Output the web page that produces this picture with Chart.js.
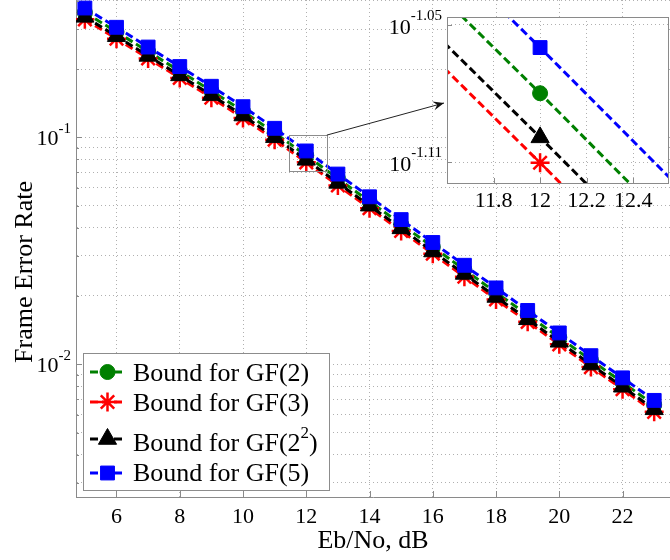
<!DOCTYPE html>
<html><head><meta charset="utf-8">
<script src="https://cdn.jsdelivr.net/npm/chart.js@4.4.1/dist/chart.umd.min.js"></script>
<style>
html,body{margin:0;padding:0;background:#fff;}
#wrap{position:relative;width:670px;height:560px;overflow:hidden;background:#fff;}
#main{position:absolute;left:0;top:0;}
#inset{position:absolute;left:380px;top:0;}
</style></head><body>
<div id="wrap"><canvas id="main" width="670" height="560"></canvas><canvas id="inset" width="290" height="220"></canvas></div>
<script>
// ---- data ----
const ebno = [5, 6, 7, 8, 9, 10, 11, 12, 13, 14, 15, 16, 17, 18, 19, 20, 21, 22, 23];
const ferGF2  = [0.3548, 0.2917, 0.2388, 0.1959, 0.1603, 0.1304, 0.1047, 0.0832, 0.0658, 0.0522, 0.0414, 0.0329, 0.0261, 0.0207, 0.01648, 0.01312, 0.01042, 0.00832, 0.00662];
const ferGF3  = [0.3311, 0.2722, 0.2228, 0.1827, 0.1496, 0.1216, 0.0977, 0.0776, 0.0614, 0.0487, 0.0387, 0.0307, 0.0243, 0.0193, 0.01538, 0.01224, 0.00972, 0.00776, 0.00617];
const ferGF4  = [0.3396, 0.2792, 0.2285, 0.1875, 0.1535, 0.1248, 0.1002, 0.0796, 0.0630, 0.0500, 0.0397, 0.0314, 0.0250, 0.0198, 0.01578, 0.01256, 0.00997, 0.00796, 0.00633];
const ferGF5  = [0.3715, 0.3055, 0.2500, 0.2051, 0.1679, 0.1365, 0.1096, 0.0871, 0.0689, 0.0547, 0.0434, 0.0344, 0.0273, 0.0217, 0.01726, 0.01374, 0.01091, 0.00871, 0.00693];
const seriesLabels = ['Bound for GF(2)', 'Bound for GF(3)', 'Bound for GF(2^2)', 'Bound for GF(5)'];
const xTickValues = [6, 8, 10, 12, 14, 16, 18, 20, 22];
const yDecadeExps = [-1, -2];
const yGridDecades = [0.001, 0.01, 0.1];
const yGridMultipliers = [1, 2, 3, 4, 5, 6, 7, 8, 9];
const insetXTicks = [11.8, 12, 12.2, 12.4];
const insetXLabels = ['11.8', '12', '12.2', '12.4'];
const insetYTickExps = [-1.05, -1.11];
const insetYLabels = ['-1.05', '-1.11'];
const xLabel = 'Eb/No, dB';
const yLabel = 'Frame Error Rate';

// ---- ranges / style ----
const X_MIN = 4.72, X_MAX = 23.5, Y_MIN = 0.0026, Y_MAX = 0.403;
const IX_MIN = 11.6, IX_MAX = 12.554, IY_MIN = 0.07604, IY_MAX = 0.08981;
const zoomRect = {x0: 11.45, x1: 12.65, y0: 0.0713, y1: 0.1023};
const FONT = '"Liberation Serif", "Times New Roman", serif';
const GRID = '#b0b0b0';
const AXIS = '#8a8a8a';

const styles = [
  {color: '#008000', pointStyle: 'circle',   radius: 7.5, pbw: 1,   order: 3},
  {color: '#ff0000', pointStyle: 'star',     radius: 9.5, pbw: 2.5, order: 2},
  {color: '#000000', pointStyle: 'triangle', radius: 10.5,pbw: 1,   order: 1},
  {color: '#0000ff', pointStyle: 'rect',     radius: 9.8, pbw: 1,   order: 0}
];
const seriesData = [ferGF2, ferGF3, ferGF4, ferGF5];

function makeDatasets(inset) {
  return seriesData.map((arr, k) => {
    const s = styles[k];
    return {
      label: seriesLabels[k],
      data: ebno.map((x, i) => ({x: x, y: arr[i]})),
      borderColor: s.color, backgroundColor: s.color,
      pointBackgroundColor: s.color, pointBorderColor: s.color,
      pointStyle: s.pointStyle, pointRadius: s.radius, pointBorderWidth: s.pbw,
      borderWidth: 3, borderDash: [8, 4], tension: 0, fill: false,
      order: s.order, clip: inset ? 0 : undefined
    };
  });
}

const yGridValues = [];
yGridDecades.forEach(d => yGridMultipliers.forEach(m => {
  const v = +(d * m).toPrecision(3);
  if (v >= Y_MIN && v <= Y_MAX) yGridValues.push(v);
}));

function drawPow(ctx, base, sup, rightX, baseline, size, supSize, raise) {
  ctx.font = size + 'px ' + FONT;
  const wb = ctx.measureText(base).width;
  ctx.font = supSize + 'px ' + FONT;
  const ws = ctx.measureText(sup).width;
  const x0 = rightX - wb - ws;
  ctx.textAlign = 'left';
  ctx.textBaseline = 'alphabetic';
  ctx.font = size + 'px ' + FONT;
  ctx.fillText(base, x0, baseline);
  ctx.font = supSize + 'px ' + FONT;
  ctx.fillText(sup, x0 + wb, baseline - raise);
}

function drawMarker(ctx, s, x, y) {
  if (Chart.helpers && Chart.helpers.drawPoint) {
    ctx.save();
    ctx.fillStyle = s.color; ctx.strokeStyle = s.color; ctx.lineWidth = s.pbw;
    Chart.helpers.drawPoint(ctx, {pointStyle: s.pointStyle, radius: s.radius, rotation: 0, borderWidth: s.pbw}, x, y);
    ctx.restore();
  }
}

const mainDecor = {
  id: 'mainDecor',
  afterDraw(chart) {
    const ctx = chart.ctx, a = chart.chartArea, xs = chart.scales.x, ys = chart.scales.y;
    ctx.save();
    // inward ticks
    ctx.strokeStyle = AXIS; ctx.lineWidth = 1; ctx.setLineDash([]);
    xTickValues.forEach(v => {
      const px = Math.round(xs.getPixelForValue(v)) + 0.5;
      ctx.beginPath(); ctx.moveTo(px, a.bottom); ctx.lineTo(px, a.bottom - 6); ctx.stroke();
    });
    yGridValues.forEach(v => {
      const py = Math.round(ys.getPixelForValue(v)) + 0.5;
      const major = Math.abs(Math.log10(v) - Math.round(Math.log10(v))) < 1e-6;
      ctx.beginPath(); ctx.moveTo(a.left, py); ctx.lineTo(a.left + (major ? 6 : 3), py); ctx.stroke();
    });
    // tick labels
    ctx.fillStyle = '#000';
    ctx.font = '22px ' + FONT; ctx.textAlign = 'center'; ctx.textBaseline = 'alphabetic';
    xTickValues.forEach(v => ctx.fillText(String(v), xs.getPixelForValue(v), a.bottom + 26));
    yDecadeExps.forEach(e => {
      const py = ys.getPixelForValue(Math.pow(10, e));
      drawPow(ctx, '10', String(e), a.left - 5, py + 8, 22, 15, 12);
    });
    // axis titles
    ctx.font = '26px ' + FONT; ctx.textAlign = 'center'; ctx.textBaseline = 'alphabetic';
    ctx.fillText(xLabel, (a.left + a.right) / 2, a.bottom + 51);
    ctx.save(); ctx.translate(32, 272); ctx.rotate(-Math.PI / 2);
    ctx.fillText(yLabel, 0, 0); ctx.restore();
    // zoom rectangle
    const rx0 = xs.getPixelForValue(zoomRect.x0), rx1 = xs.getPixelForValue(zoomRect.x1);
    const ry0 = ys.getPixelForValue(zoomRect.y0), ry1 = ys.getPixelForValue(zoomRect.y1);
    ctx.strokeStyle = '#8c8c8c'; ctx.lineWidth = 1;
    ctx.strokeRect(Math.round(rx0) + 0.5, Math.round(ry1) + 0.5, Math.round(rx1 - rx0), Math.round(ry0 - ry1));
    // arrow to inset
    const tx = 444, ty = 103;
    ctx.strokeStyle = '#222'; ctx.lineWidth = 1;
    ctx.beginPath(); ctx.moveTo(rx1, ry1); ctx.lineTo(tx, ty); ctx.stroke();
    const ang = Math.atan2(ty - ry1, tx - rx1);
    ctx.fillStyle = '#111';
    ctx.beginPath();
    ctx.moveTo(tx, ty);
    ctx.lineTo(tx - 11 * Math.cos(ang) + 4.5 * Math.sin(ang), ty - 11 * Math.sin(ang) - 4.5 * Math.cos(ang));
    ctx.lineTo(tx - 7 * Math.cos(ang), ty - 7 * Math.sin(ang));
    ctx.lineTo(tx - 11 * Math.cos(ang) - 4.5 * Math.sin(ang), ty - 11 * Math.sin(ang) + 4.5 * Math.cos(ang));
    ctx.closePath(); ctx.fill();
    // legend
    const lb = {x: 83, y: 353, w: 246, h: 137};
    ctx.fillStyle = '#fff'; ctx.fillRect(lb.x, lb.y, lb.w, lb.h);
    ctx.strokeStyle = '#8c8c8c'; ctx.lineWidth = 1;
    ctx.strokeRect(lb.x + 0.5, lb.y + 0.5, lb.w, lb.h);
    const rows = [{m: 372, b: 381}, {m: 402, b: 411}, {m: 439, b: 451}, {m: 473, b: 481}];
    rows.forEach((r, k) => {
      const s = styles[k];
      ctx.strokeStyle = s.color; ctx.lineWidth = 3; ctx.setLineDash([8, 4]);
      ctx.beginPath(); ctx.moveTo(90, r.m); ctx.lineTo(125, r.m); ctx.stroke();
      ctx.setLineDash([]);
      drawMarker(ctx, s, 107.5, r.m);
      ctx.fillStyle = '#000'; ctx.textAlign = 'left'; ctx.textBaseline = 'alphabetic';
      const parts = seriesLabels[k].split('^');
      ctx.font = '26px ' + FONT;
      if (parts.length === 1) {
        ctx.fillText(parts[0], 133, r.b);
      } else {
        const head = parts[0];
        const sup = parts[1].replace(')', '');
        ctx.fillText(head, 133, r.b);
        let x = 133 + ctx.measureText(head).width;
        ctx.font = '17px ' + FONT; ctx.fillText(sup, x, r.b - 13);
        x += ctx.measureText(sup).width;
        ctx.font = '26px ' + FONT; ctx.fillText(')', x, r.b);
      }
    });
    ctx.restore();
  }
};

new Chart(document.getElementById('main'), {
  type: 'line',
  data: {datasets: makeDatasets(false)},
  options: {
    responsive: false, animation: false, devicePixelRatio: 1,
    layout: {padding: 0, autoPadding: false},
    plugins: {legend: {display: false}, tooltip: {enabled: false}},
    scales: {
      x: {type: 'linear', min: X_MIN, max: X_MAX,
          afterBuildTicks: s => { s.ticks = xTickValues.map(v => ({value: v})); },
          afterFit: s => { s.height = 63; },
          ticks: {display: false},
          grid: {color: GRID, lineWidth: 1, drawTicks: false},
          border: {display: true, color: AXIS, width: 1, dash: [1, 3]}},
      y: {type: 'logarithmic', min: Y_MIN, max: Y_MAX,
          afterBuildTicks: s => { s.ticks = yGridValues.map(v => ({value: v})); },
          afterFit: s => { s.width = 76; },
          ticks: {display: false},
          grid: {color: GRID, lineWidth: 1, drawTicks: false},
          border: {display: true, color: AXIS, width: 1, dash: [1, 3]}}
    }
  },
  plugins: [mainDecor]
});

const insetDecor = {
  id: 'insetDecor',
  beforeDraw(chart) {
    const ctx = chart.ctx, a = chart.chartArea;
    ctx.save(); ctx.fillStyle = '#fff';
    ctx.fillRect(a.left, a.top, a.right - a.left, a.bottom - a.top);
    ctx.restore();
  },
  afterDraw(chart) {
    const ctx = chart.ctx, a = chart.chartArea, xs = chart.scales.x, ys = chart.scales.y;
    ctx.save();
    ctx.strokeStyle = AXIS; ctx.lineWidth = 1; ctx.setLineDash([]);
    ctx.strokeRect(Math.round(a.left) + 0.5, Math.round(a.top) + 0.5, Math.round(a.right - a.left) - 1, Math.round(a.bottom - a.top));
    insetXTicks.forEach(v => {
      const px = Math.round(xs.getPixelForValue(v)) + 0.5;
      ctx.beginPath(); ctx.moveTo(px, a.bottom); ctx.lineTo(px, a.bottom - 5); ctx.stroke();
    });
    insetYTickExps.forEach(e => {
      const py = Math.round(ys.getPixelForValue(Math.pow(10, e))) + 0.5;
      ctx.beginPath(); ctx.moveTo(a.left, py); ctx.lineTo(a.left + 5, py); ctx.stroke();
    });
    ctx.fillStyle = '#000';
    ctx.font = '22px ' + FONT; ctx.textAlign = 'center'; ctx.textBaseline = 'alphabetic';
    insetXTicks.forEach((v, i) => ctx.fillText(insetXLabels[i], xs.getPixelForValue(v), a.bottom + 24));
    insetYTickExps.forEach((e, i) => {
      const py = ys.getPixelForValue(Math.pow(10, e));
      drawPow(ctx, '10', insetYLabels[i], a.left - 5, py + 9, 22, 15, 14);
    });
    ctx.restore();
  }
};

new Chart(document.getElementById('inset'), {
  type: 'line',
  data: {datasets: makeDatasets(true)},
  options: {
    responsive: false, animation: false, devicePixelRatio: 1,
    layout: {padding: {top: 17, right: 1, left: 0, bottom: 0}, autoPadding: false},
    plugins: {legend: {display: false}, tooltip: {enabled: false}},
    scales: {
      x: {type: 'linear', min: IX_MIN, max: IX_MAX,
          afterBuildTicks: s => { s.ticks = insetXTicks.map(v => ({value: v})); },
          afterFit: s => { s.height = 37; },
          ticks: {display: false},
          grid: {color: GRID, lineWidth: 1, drawTicks: false},
          border: {display: false, dash: [1, 3]}},
      y: {type: 'logarithmic', min: IY_MIN, max: IY_MAX,
          afterBuildTicks: s => { s.ticks = insetYTickExps.map(e => ({value: Math.pow(10, e)})); },
          afterFit: s => { s.width = 67; },
          ticks: {display: false},
          grid: {color: GRID, lineWidth: 1, drawTicks: false},
          border: {display: false, dash: [1, 3]}}
    }
  },
  plugins: [insetDecor]
});
</script>
</body></html>
